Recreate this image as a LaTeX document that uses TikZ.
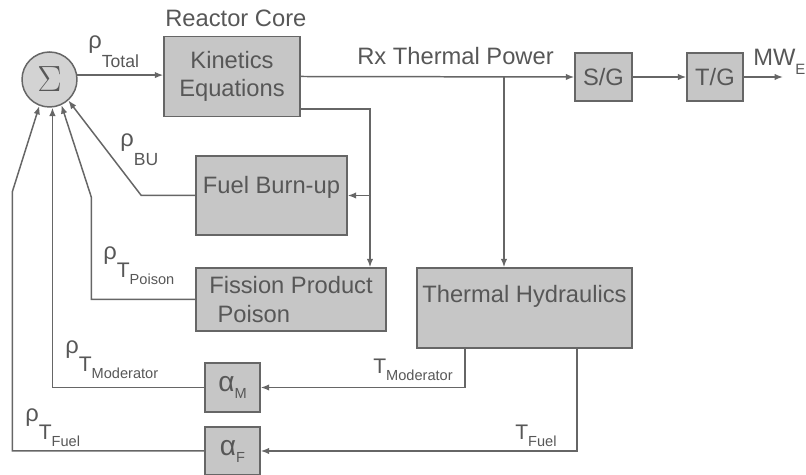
\documentclass[tikz,border=0pt]{standalone}
\usepackage{fontspec}
\setmainfont{Liberation Sans}
\usetikzlibrary{arrows.meta,positioning}
\definecolor{boxgray}{HTML}{C6C6C6}
\definecolor{sumgray}{HTML}{D3D3D3}
\definecolor{linegray}{HTML}{666666}
\definecolor{inkgray}{HTML}{575757}
\newcommand{\lowT}[1]{\raisebox{-10.5pt}{\fontsize{12}{12}\selectfont T\raisebox{-3.5pt}{\fontsize{8.3}{9}\selectfont #1}}}
\newcommand{\lowsub}[1]{\raisebox{-10.5pt}{\fontsize{10}{10}\selectfont #1}}

\begin{document}
\begin{tikzpicture}[x=0.02cm, y=-0.02cm, >={Latex[length=1.7mm,width=1.3mm]},
  block/.style={draw=linegray, line width=0.85pt, fill=boxgray, text=inkgray, inner sep=0pt, align=center, font=\fontsize{13.5}{16}\selectfont},
  wire/.style={draw=linegray, line width=0.85pt},
  lbl/.style={text=inkgray, inner sep=0pt, anchor=base west, font=\fontsize{13.5}{16}\selectfont}]
\useasboundingbox (0,0) rectangle (806,475);
% summing junction and reactor core
\node[circle, draw=linegray, line width=0.85pt, fill=sumgray, minimum size=1.1cm, inner sep=0pt, text=inkgray] (sum) at (49.5,79.5) {\fontsize{22}{22}\selectfont$\Sigma$};
\node[block, minimum width=2.72cm, minimum height=1.6cm] (kin) at (232,76.5) {Kinetics\\Equations};
\node[block, minimum width=1.14cm, minimum height=0.96cm] (sg) at (603.5,77) {S/G};
\node[block, minimum width=1.12cm, minimum height=0.96cm] (tg) at (715,77) {T/G};
% feedback blocks
\node[block, minimum width=3.02cm, minimum height=1.58cm, text height=9.5pt, text depth=12.3pt] (burn) at (271.5,195.5) {Fuel Burn-up};
\node[block, minimum width=3.8cm, minimum height=1.26cm, align=left] (fpp) at (291,299.5) {Fission Product\\\hspace*{0.35em}Poison};
\node[block, minimum width=4.3cm, minimum height=1.6cm, text height=9.5pt, text depth=16.3pt] (th) at (524.5,308) {Thermal Hydraulics};
\node[block, minimum width=1.1cm, minimum height=0.98cm] (am) at (232.5,387.5) {{\fontsize{16}{16}\selectfont α}\raisebox{-4pt}{\fontsize{8.3}{9}\selectfont M}};
\node[block, minimum width=1.1cm, minimum height=0.96cm] (af) at (232.5,451) {{\fontsize{16}{16}\selectfont α}\raisebox{-4pt}{\fontsize{8.3}{9}\selectfont F}};

\coordinate (tap) at (504,77);
\coordinate (fork) at (370,195.5);
\coordinate (mwend) at (783,77);

% forward path
\draw[wire,->] (sum.9) -- (sum.9 -| kin.west);
\draw[wire,->] (kin.east) -- (sg.west);
\draw[wire,->] (tap) -- (tap |- th.north);
\draw[wire,->] (sg) -- (tg);
\draw[wire,->] (tg) -- (mwend);
\draw[wire,->] ([yshift=0.16cm]kin.south east) -| (fork) -- (fork |- fpp.north);
\draw[wire,->] (fork) -- (burn.east);
% reactivity feedback
\draw[wire,->] (burn.west) -- ++(-54,0) -- (sum.-48);
\draw[wire,->] (fpp.west) -- ++(-104,0) -- ++(0,-102.5) -- (sum.-65);
\draw[wire,->] ([xshift=-1.19cm]th.south) |- (am.east);
\draw[wire,->] ([xshift=1.05cm]th.south) |- (af.east);
\draw[wire,->] (am.west) -| (sum.-84);
\draw[wire,->] (af.west) -- ++(-192,0) -- ++(0,-259) -- (sum.-111);

% labels
\node[lbl] (core) at (165,27) {Reactor Core};
\node[lbl] (rxpow) at (357,65) {Rx Thermal Power};
\node[lbl] (mwe) at (753,66) {MW\raisebox{-5pt}{\fontsize{8.5}{9}\selectfont E}};
\node[lbl] (rtot) at (88,49) {ρ\lowsub{Total}};
\node[lbl] (rbu) at (120,147) {ρ\lowsub{BU}};
\node[lbl] (rpoi) at (103,259.5) {ρ\lowT{Poison}};
\node[lbl] (rmod) at (65,353.5) {ρ\lowT{Moderator}};
\node[lbl] (rfuel) at (25,421.5) {ρ\lowT{Fuel}};
\node[lbl, font=\fontsize{12}{14}\selectfont] (tmod) at (373,374) {T\raisebox{-3.5pt}{\fontsize{8.3}{9}\selectfont Moderator}};
\node[lbl, font=\fontsize{12}{14}\selectfont] (tfuel) at (515,440) {T\raisebox{-3.5pt}{\fontsize{8.3}{9}\selectfont Fuel}};
\end{tikzpicture}
\end{document}
